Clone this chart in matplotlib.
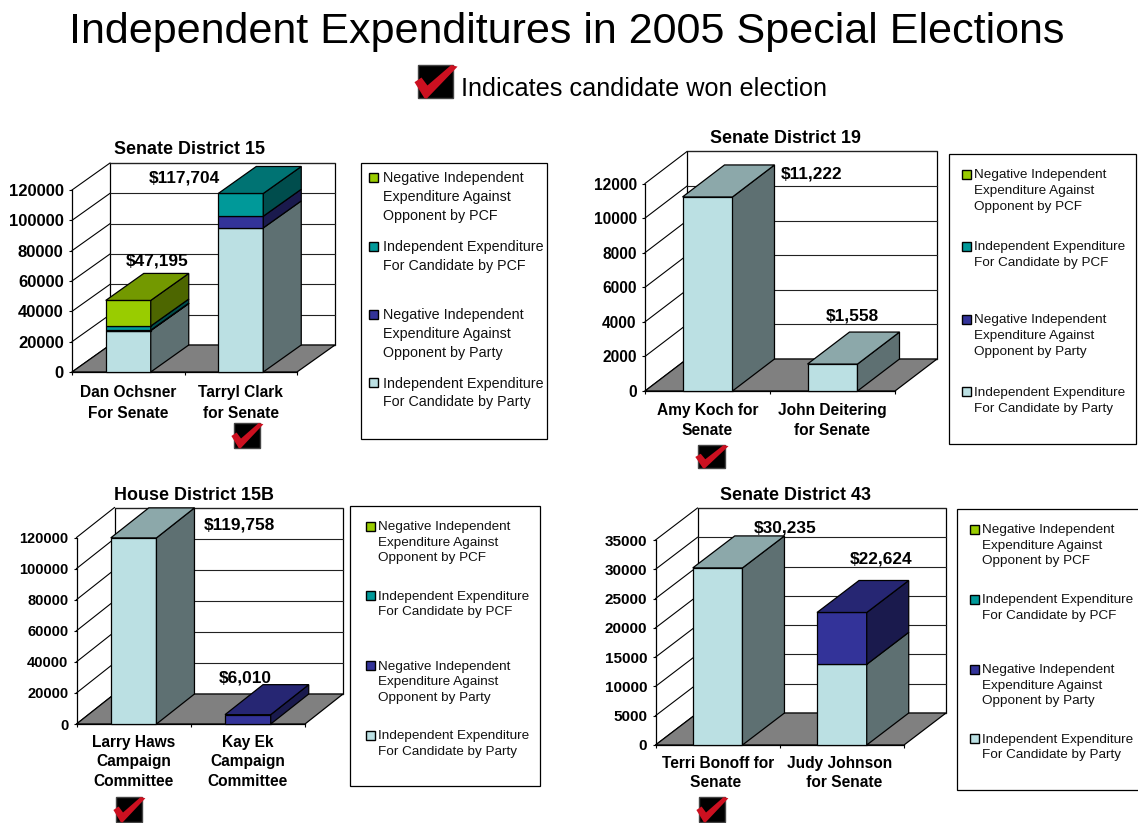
import matplotlib
matplotlib.use("Agg")
import matplotlib.pyplot as plt
from matplotlib.patches import Polygon, Rectangle

plt.rcParams['font.family'] = ['Liberation Sans', 'DejaVu Sans']

W, H = 1138, 823

# order of the stack, bottom to top
legend_labels = [
    "Independent Expenditure\nFor Candidate by Party",
    "Negative Independent\nExpenditure Against\nOpponent by Party",
    "Independent Expenditure\nFor Candidate by PCF",
    "Negative Independent\nExpenditure Against\nOpponent by PCF",
]
front_colours = ["#BBE0E3", "#333399", "#009999", "#99CC00"]

sd15_names = ["Dan Ochsner\nFor Senate", "Tarryl Clark\nfor Senate"]
sd15_party = [27300, 95000]
sd15_neg_party = [300, 7700]
sd15_pcf = [2700, 15004]
sd15_neg_pcf = [16895, 0]

sd19_names = ["Amy Koch for\nSenate", "John Deitering\nfor Senate"]
sd19_party = [11222, 1558]
sd19_neg_party = [0, 0]
sd19_pcf = [0, 0]
sd19_neg_pcf = [0, 0]

hd15b_names = ["Larry Haws\nCampaign\nCommittee", "Kay Ek\nCampaign\nCommittee"]
hd15b_party = [119758, 0]
hd15b_neg_party = [0, 6010]
hd15b_pcf = [0, 0]
hd15b_neg_pcf = [0, 0]

sd43_names = ["Terri Bonoff for\nSenate ", "Judy Johnson \n for Senate"]
sd43_party = [30235, 13772]
sd43_neg_party = [0, 8852]
sd43_pcf = [0, 0]
sd43_neg_pcf = [0, 0]

# layout is all in pixels of the original picture
panels = [
    dict(title="Senate District 15", title_xy=(190, 148), names=sd15_names,
         stack=[sd15_party, sd15_neg_party, sd15_pcf, sd15_neg_pcf],
         origin=(72, 372), width=225, height=182, depth=(38, 27), ymax=120000, step=20000,
         tick_size=12, value_xy=[(157.5, 260), (184, 177)], check=(234, 423, 26, 25), pad=9.5,
         spacing=1.48,
         box=(361, 162.5, 547.5, 439), swatch_x=369, text_x=383, rows=[382.7, 314.3, 246, 177.3],
         pitch=18.7, legend_size=10.3),
    dict(title="Senate District 19", title_xy=(785, 137), names=sd19_names,
         stack=[sd19_party, sd19_neg_party, sd19_pcf, sd19_neg_pcf],
         origin=(645, 391), width=250, height=207.5, depth=(42, 32), ymax=12000, step=2000,
         tick_size=11.2, value_xy=[(811.5, 173), (852, 315)], check=(698, 445, 27, 23), pad=9,
         spacing=1.36,
         box=(949, 153.5, 1136, 444), swatch_x=962, text_x=974.3, rows=[391.7, 319.3, 246, 174.3],
         pitch=15.8, legend_size=9.7),
    dict(title="House District 15B", title_xy=(194, 494), names=hd15b_names,
         stack=[hd15b_party, hd15b_neg_party, hd15b_pcf, hd15b_neg_pcf],
         origin=(76.5, 724), width=228.5, height=186.5, depth=(38, 30), ymax=120000, step=20000,
         tick_size=10.5, value_xy=[(239, 524), (245.5, 677)], check=(116, 797, 26, 25), pad=8,
         spacing=1.36,
         box=(350, 505.5, 540, 786), swatch_x=366, text_x=377.7, rows=[735, 665.7, 595.7, 526],
         pitch=15.7, legend_size=9.7),
    dict(title="Senate District 43", title_xy=(796, 494), names=sd43_names,
         stack=[sd43_party, sd43_neg_party, sd43_pcf, sd43_neg_pcf],
         origin=(655.5, 745), width=248.5, height=205, depth=(42, 32), ymax=35000, step=5000,
         tick_size=11, value_xy=[(785, 527), (881.5, 558)], check=(699, 797, 26, 25), pad=8,
         spacing=1.36,
         box=(957, 509, 1145, 789.5), swatch_x=970, text_x=981.7, rows=[738.7, 669.3, 599.3, 529.3],
         pitch=15.5, legend_size=9.7),
]


def shade(colour, k):
    r, g, b = matplotlib.colors.to_rgb(colour)
    return (r*k, g*k, b*k)


def draw_panel(fig, p):
    ox, oy = p['origin']
    ax = fig.add_axes([ox/W, 1 - oy/H, p['width']/W, p['height']/H])
    ax.patch.set_visible(False)
    ax.set_xlim(0, 2)
    ax.set_ylim(0, p['ymax'])
    # depth of the fake 3d box, changed to data units
    ddx = p['depth'][0]/p['width']*2
    ddy = p['depth'][1]/p['height']*p['ymax']
    ticks = list(range(0, p['ymax'] + 1, p['step']))

    # back wall, gridlines, floor
    ax.add_patch(Polygon([(ddx, ddy), (2 + ddx, ddy), (2 + ddx, p['ymax'] + ddy), (ddx, p['ymax'] + ddy)],
                         fc="white", ec="black", lw=0.9, clip_on=False, zorder=1))
    for v in ticks:
        ax.plot([ddx, 2 + ddx], [v + ddy, v + ddy], color="#222222", lw=0.8, clip_on=False, zorder=1.1)
        ax.plot([0, ddx], [v, v + ddy], color="black", lw=0.8, clip_on=False, zorder=1.1)
    ax.add_patch(Polygon([(0, 0), (2, 0), (2 + ddx, ddy), (ddx, ddy)],
                         fc="#808080", ec="black", lw=0.9, clip_on=False, zorder=1.2))

    # stacked bars, front + side for every piece, top only on the last one
    for i in range(2):
        x0 = i + 0.5 - 0.2
        x1 = i + 0.5 + 0.2
        bottom = 0
        for values, colour in zip(p['stack'], front_colours):
            v = values[i]
            if v == 0:
                continue
            top = bottom + v
            ax.add_patch(Polygon([(x0, bottom), (x1, bottom), (x1, top), (x0, top)],
                                 fc=colour, ec="black", lw=0.9, clip_on=False, zorder=3))
            ax.add_patch(Polygon([(x1, bottom), (x1 + ddx, bottom + ddy), (x1 + ddx, top + ddy), (x1, top)],
                                 fc=shade(colour, 0.5), ec="black", lw=0.9, clip_on=False, zorder=3))
            last = colour
            bottom = top
        ax.add_patch(Polygon([(x0, bottom), (x1, bottom), (x1 + ddx, bottom + ddy), (x0 + ddx, bottom + ddy)],
                             fc=shade(last, 0.75), ec="black", lw=0.9, clip_on=False, zorder=3))

    for side in ['top', 'right']:
        ax.spines[side].set_visible(False)
    ax.spines['left'].set_linewidth(0.9)
    ax.spines['bottom'].set_linewidth(0.9)
    ax.set_yticks(ticks)
    ax.set_yticklabels([str(v) for v in ticks], fontsize=p['tick_size'], fontweight="bold")
    ax.set_xticks([0, 1, 2])
    ax.set_xticklabels([])
    ax.set_xticks([0.5, 1.5], p['names'], minor=True)
    ax.tick_params(axis='y', length=2.5, width=0.8, pad=3.5)
    ax.tick_params(axis='x', which='major', length=2.5, width=0.8)
    ax.tick_params(axis='x', which='minor', length=0, pad=p['pad'])
    for lab in ax.get_xticklabels(minor=True):
        lab.set_fontsize(11.2)
        lab.set_fontweight("bold")
        lab.set_linespacing(p['spacing'])


def draw_check(over, x, y, w, h):
    over.add_patch(Rectangle((x, y), w, h, fc="black", ec="#444444", lw=1.0, zorder=5))
    shape = [(-0.1, 0.52), (0.1, 0.38), (0.27, 0.62), (0.95, 0.0), (1.13, 0.05), (0.25, 1.02), (0.18, 1.0)]
    over.add_patch(Polygon([(x + a*w, y + b*h) for a, b in shape], fc="#CC1020", ec="none", zorder=6))


def draw_legend(over, p):
    x0, y0, x1, y1 = p['box']
    over.add_patch(Rectangle((x0, y0), x1 - x0, y1 - y0, fc="white", ec="black", lw=0.9, clip_on=True))
    for label, colour, row in zip(legend_labels, front_colours, p['rows']):
        over.add_patch(Rectangle((p['swatch_x'], row - 4.5), 9, 9, fc=colour, ec="black", lw=1.0))
        for k, line in enumerate(label.split("\n")):
            over.text(p['text_x'], row + 1 + k*p['pitch'], line, fontsize=p['legend_size'],
                      ha="left", va="center", color="#111111")


fig = plt.figure(figsize=(W/100, H/100), dpi=100)

for p in panels:
    draw_panel(fig, p)

# everything placed by pixel goes on this layer
over = fig.add_axes([0, 0, 1, 1], zorder=10)
over.set_xlim(0, W)
over.set_ylim(H, 0)
over.axis('off')

over.text(567, 32, "Independent Expenditures in 2005 Special Elections", fontsize=31.1,
          ha="center", va="center")
over.text(461, 89, "Indicates candidate won election", fontsize=18.2, ha="left", va="center")
draw_check(over, 418, 65, 35, 33)

for p in panels:
    over.text(p['title_xy'][0], p['title_xy'][1] + 1, p['title'], fontsize=12.9, fontweight="bold",
              ha="center", va="center")
    for i in range(2):
        total = sum(values[i] for values in p['stack'])
        over.text(p['value_xy'][i][0], p['value_xy'][i][1] + 1, f"${total:,}", fontsize=12.4,
                  fontweight="bold", ha="center", va="center")
    draw_check(over, *p['check'])
    draw_legend(over, p)

fig.savefig("out.png", dpi=100)
